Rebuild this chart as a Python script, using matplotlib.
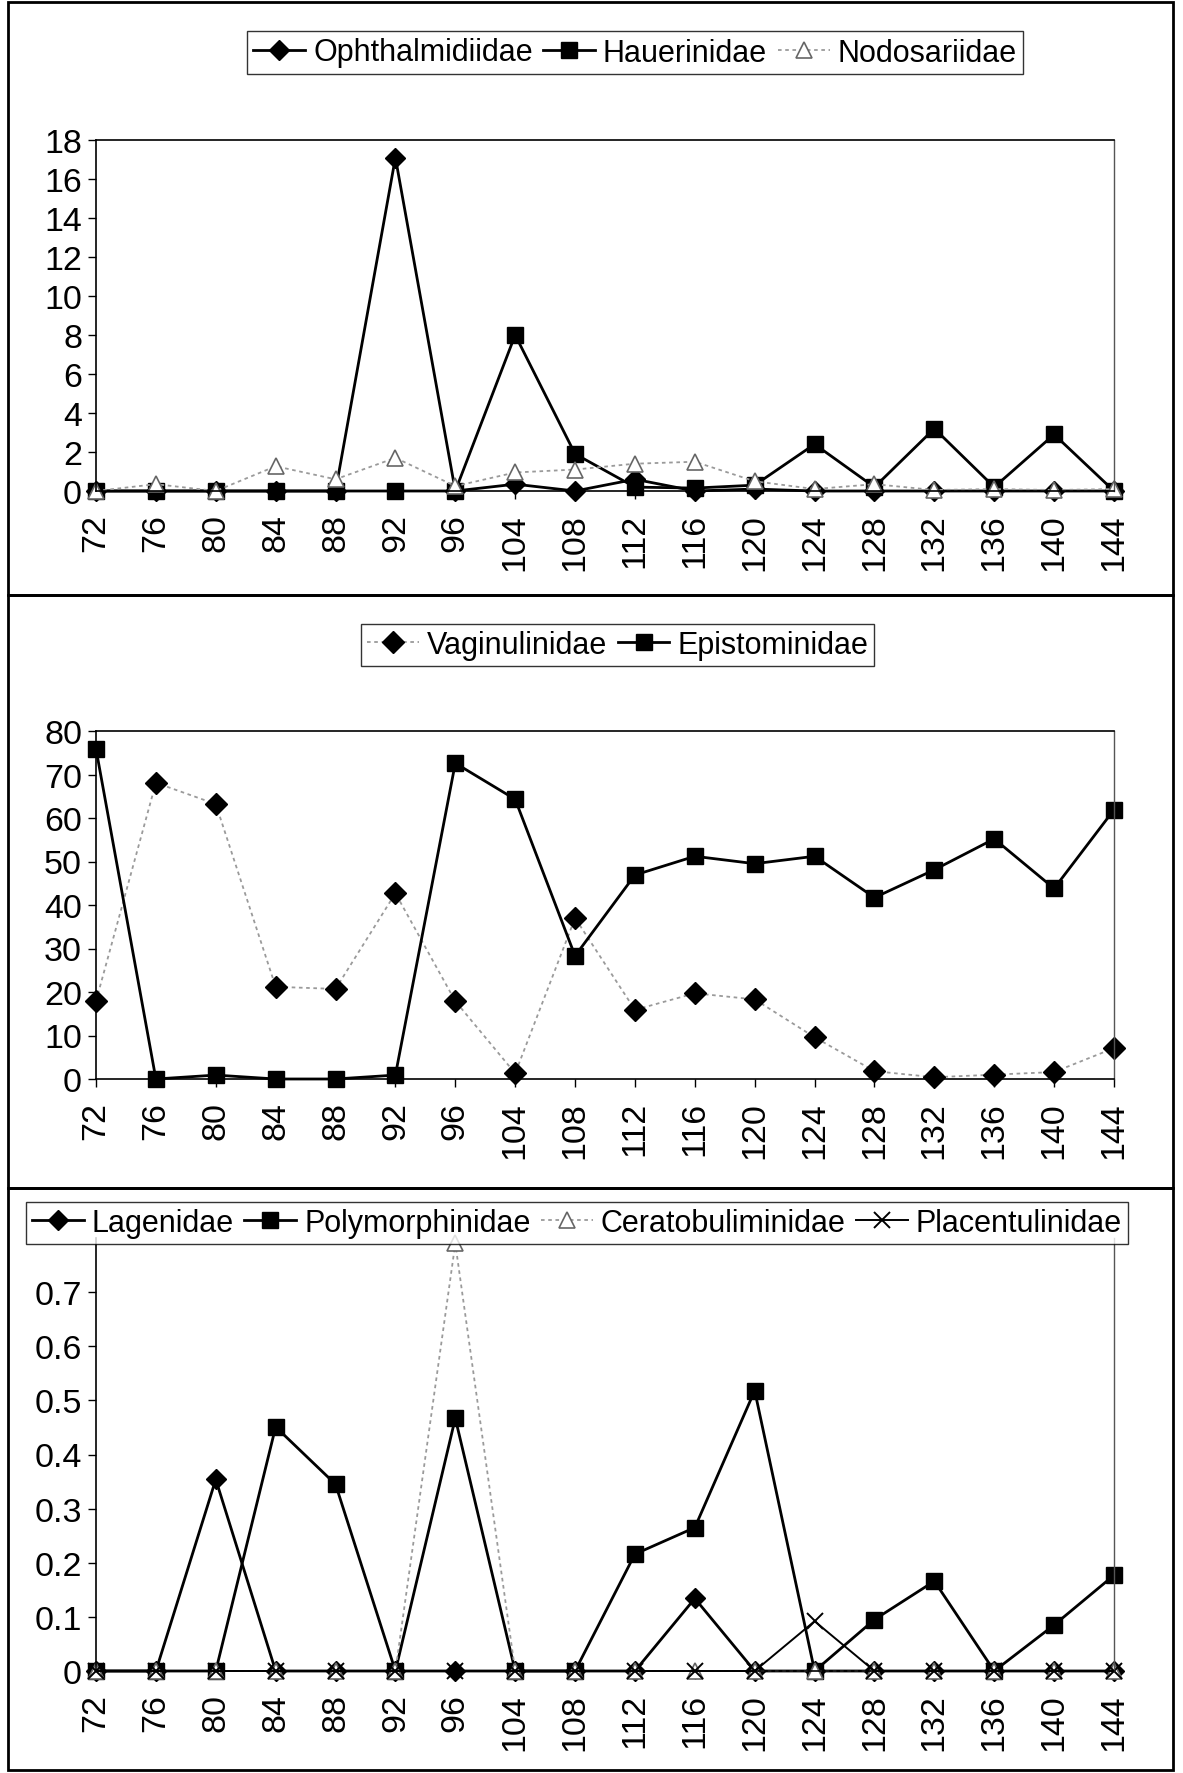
import matplotlib
matplotlib.use("Agg")
import matplotlib.pyplot as plt
from matplotlib.patches import Rectangle
from matplotlib.ticker import FuncFormatter

plt.rcParams['font.family'] = ['Liberation Sans', 'DejaVu Sans']

# ---- data ----
depths = ['72', '76', '80', '84', '88', '92', '96', '104', '108', '112',
          '116', '120', '124', '128', '132', '136', '140', '144']

ophthalmidiidae = [0, 0, 0, 0, 0, 17.1, 0, 0.35, 0, 0.6, 0, 0.1, 0, 0, 0, 0, 0, 0]
hauerinidae = [0, 0, 0, 0, 0, 0, 0, 8.0, 1.9, 0.2, 0.15, 0.3, 2.4, 0.2, 3.2, 0.2, 2.9, 0]
nodosariidae = [0, 0.35, 0, 1.27, 0.6, 1.7, 0.25, 0.95, 1.1, 1.4, 1.5, 0.5, 0.1, 0.35, 0.05, 0.1, 0.05, 0.1]

vaginulinidae = [17.9, 68.1, 63.2, 21.2, 20.7, 42.7, 17.9, 1.3, 37.0, 15.9,
                 19.7, 18.3, 9.6, 1.8, 0.4, 1.0, 1.6, 7.1]
epistominidae = [75.9, 0, 0.9, 0, 0, 0.9, 72.6, 64.3, 28.3, 46.9,
                 51.2, 49.5, 51.2, 41.7, 48.1, 55.2, 43.8, 61.9]

lagenidae = [0, 0, 0.354, 0, 0, 0, 0, 0, 0, 0, 0.134, 0, 0, 0, 0, 0, 0, 0]
polymorphinidae = [0, 0, 0, 0.451, 0.345, 0, 0.467, 0, 0, 0.216, 0.265, 0.518,
                   0, 0.095, 0.166, 0, 0.085, 0.177]
ceratobuliminidae = [0, 0, 0, 0, 0, 0, 0.79, 0, 0, 0, 0, 0, 0, 0, 0, 0, 0, 0]
placentulinidae = [0, 0, 0, 0, 0, 0, 0, 0, 0, 0, 0, 0, 0.092, 0, 0, 0, 0, 0]

W, H = 1183, 1774
fig = plt.figure(figsize=(W / 100, H / 100), dpi=100)

def fx(px):
    return px / W

def fy(py):
    return 1 - py / H

x = list(range(len(depths)))
TICKFS = 24.5
LEGFS = 22

def make_axes(top_px, bottom_px):
    ax = fig.add_axes([fx(96), fy(bottom_px), fx(1114) - fx(96), fy(top_px) - fy(bottom_px)])
    ax.set_xlim(0, len(depths) - 1)
    ax.set_xticks(x)
    ax.set_xticklabels(depths, rotation=90, fontsize=TICKFS)
    ax.tick_params(axis='x', direction='out', length=6, width=1, pad=10)
    ax.tick_params(axis='y', direction='out', length=6, width=1, pad=4, labelsize=TICKFS)
    for s in ['left', 'bottom', 'top']:
        ax.spines[s].set_linewidth(1.2)
        ax.spines[s].set_color('black')
    ax.spines['right'].set_linewidth(1.0)
    ax.spines['right'].set_color('#555555')
    return ax

def add_legend(handles, labels, x0, x1, y0, y1):
    leg = fig.legend(handles, labels, loc='center', ncol=len(labels),
                     bbox_to_anchor=(fx((x0 + x1) / 2), fy((y0 + y1) / 2)),
                     fontsize=LEGFS, frameon=True, fancybox=False, edgecolor='black',
                     handlelength=1.7, handletextpad=0.25, columnspacing=0.35,
                     borderpad=0.2, borderaxespad=0)
    leg.get_frame().set_linewidth(1.0)
    leg.set_zorder(10)
    return leg

blk = dict(color='black', lw=2.0)
gry = dict(color='#9a9a9a', lw=1.3, linestyle=(0, (2, 2)))

# ---- panel 1 ----
ax1 = make_axes(141, 492)
ax1.set_ylim(0, 18)
ax1.set_yticks(range(0, 19, 2))
l1, = ax1.plot(x, ophthalmidiidae, marker='D', ms=10, mfc='black', mec='black', clip_on=False, **blk)
l2, = ax1.plot(x, hauerinidae, marker='s', ms=11.5, mfc='black', mec='black', clip_on=False, **blk)
l3, = ax1.plot(x, nodosariidae, marker='^', ms=11, mfc='white', mec='#666666', mew=1.2, clip_on=False, **gry)
add_legend([l1, l2, l3], ['Ophthalmidiidae', 'Hauerinidae', 'Nodosariidae'], 243, 1027, 31, 76)

# ---- panel 2 ----
ax2 = make_axes(732, 1080)
ax2.set_ylim(0, 80)
ax2.set_yticks(range(0, 81, 10))
v1, = ax2.plot(x, vaginulinidae, marker='D', ms=11, mfc='black', mec='black', clip_on=False, **gry)
v2, = ax2.plot(x, epistominidae, marker='s', ms=12, mfc='black', mec='black', clip_on=False, **blk)
add_legend([v1, v2], ['Vaginulinidae', 'Epistominidae'], 357, 878, 625, 667)

# ---- panel 3 ----
ax3 = make_axes(1239, 1672)
ax3.set_ylim(0, 0.8)
ax3.set_yticks([0, 0.1, 0.2, 0.3, 0.4, 0.5, 0.6, 0.7])
ax3.yaxis.set_major_formatter(FuncFormatter(lambda v, p: '0' if abs(v) < 1e-9 else f'{v:.1f}'))
ax3.spines['top'].set_visible(False)
p1, = ax3.plot(x, lagenidae, marker='D', ms=10, mfc='black', mec='black', clip_on=False, **blk)
p2, = ax3.plot(x, polymorphinidae, marker='s', ms=12, mfc='black', mec='black', clip_on=False, **blk)
p3, = ax3.plot(x, ceratobuliminidae, marker='^', ms=11, mfc='white', mec='#666666', mew=1.2, clip_on=False, **gry)
p4, = ax3.plot(x, placentulinidae, marker='x', ms=12, mew=1.4, color='black', lw=1.4, clip_on=False)
add_legend([p1, p2, p3, p4], ['Lagenidae', 'Polymorphinidae', 'Ceratobuliminidae', 'Placentulinidae'],
           23, 1131, 1204, 1244)

# ---- panel frames ----
for top, bot in [(3, 596), (596, 1189), (1189, 1771)]:
    fig.add_artist(Rectangle((fx(8), fy(bot)), fx(1173) - fx(8), fy(top) - fy(bot),
                             transform=fig.transFigure, fill=False, edgecolor='black',
                             lw=2.0, zorder=-1))

fig.savefig('out.png', dpi=100)
